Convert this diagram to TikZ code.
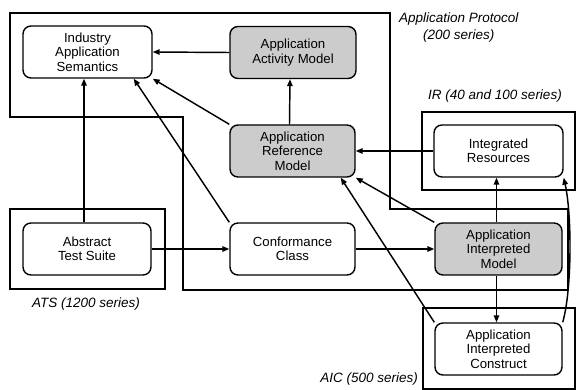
\documentclass[tikz,border=0pt]{standalone}
\usepackage{fontspec}
\setmainfont{Liberation Sans}
\usetikzlibrary{arrows.meta,calc}
\begin{document}
\begin{tikzpicture}[x=1pt,y=-1pt,
  box/.style={draw,line width=1.4pt,rounded corners=8pt,minimum width=128pt,minimum height=52pt,align=center,font=\fontsize{13.2}{14.5}\selectfont,inner sep=0pt},
  shaded/.style={box,fill=gray!40},
  frame/.style={draw,line width=2.2pt},
  arr/.style={line width=1.45pt,-{Triangle[length=7pt,width=5.5pt]}},
  lab/.style={font=\fontsize{13.5}{15}\selectfont\itshape,inner sep=0pt}]
\useasboundingbox (0,0) rectangle (576,390);
% frames
\draw[frame] (10,13) -- (390,13) -- (390,209) -- (568,209) -- (568,290) -- (183,290) -- (183,117) -- (10,117) -- cycle;
\draw[frame] (422,112) rectangle (575,190);
\draw[frame] (10,209) rectangle (165,289);
\draw[frame] (423,308) rectangle (575,389);
% labels
\node[lab,anchor=west] (lap1) at (399,19) {Application Protocol};
\node[lab,anchor=west] (lap2) at (423,36) {(200 series)};
\node[lab,anchor=west] (lir) at (428,96) {IR (40 and 100 series)};
\node[lab,anchor=west] (lats) at (32,304) {ATS (1200 series)};
\node[lab,anchor=east] (laic) at (418,379) {AIC (500 series)};
% nodes
\node[box,minimum width=129pt] (ias) at (87.5,52) {Industry\\Application\\Semantics};
\node[shaded,minimum width=126pt] (aam) at (293,52.5) {Application\\Activity Model};
\node[shaded,minimum width=125pt] (arm) at (292.5,151) {Application\\Reference\\Model};
\node[box,minimum width=129pt] (ir) at (498.5,151) {Integrated\\Resources};
\node[box] (ats) at (87,249) {Abstract\\Test Suite};
\node[box,minimum width=125pt] (cc) at (292.5,249) {Conformance\\Class};
\node[shaded,minimum width=127pt] (aim) at (498.5,249) {Application\\Interpreted\\Model};
\node[box,minimum width=127pt] (aic) at (498.5,349) {Application\\Interpreted\\Construct};
% connectors
\draw[arr] (aam.west) -- (ias.east);
\draw[arr] ([xshift=-3pt]arm.north) -- ([xshift=-3pt]aam.south);
\draw[arr] (arm.north west) -- (ias.south east);
\draw[arr] ([xshift=-3pt]ats.north) -- ([xshift=-3.5pt]ias.south);
\draw[arr] (cc.north west) -- ($(ias.south east)+(-19,0)$);
\draw[arr] (ats.east) -- (cc.west);
\draw[arr] (cc.east) -- (aim.west);
\draw[arr] (ir.west) -- (arm.east);
\draw[arr] (aim.north west) -- (arm.south east);
\draw[arr] (aic.north west) -- ($(arm.south east)+(-15,0)$);
\draw[arr] ([xshift=-2pt]aim.south) -- ([xshift=-2pt]aic.north);
\draw[arr] ([xshift=-2pt]aim.north) -- ([xshift=-2pt]ir.south);
\draw[arr] (aic.north east) .. controls (572,290) and (572,215) .. (ir.south east);
\end{tikzpicture}
\end{document}
